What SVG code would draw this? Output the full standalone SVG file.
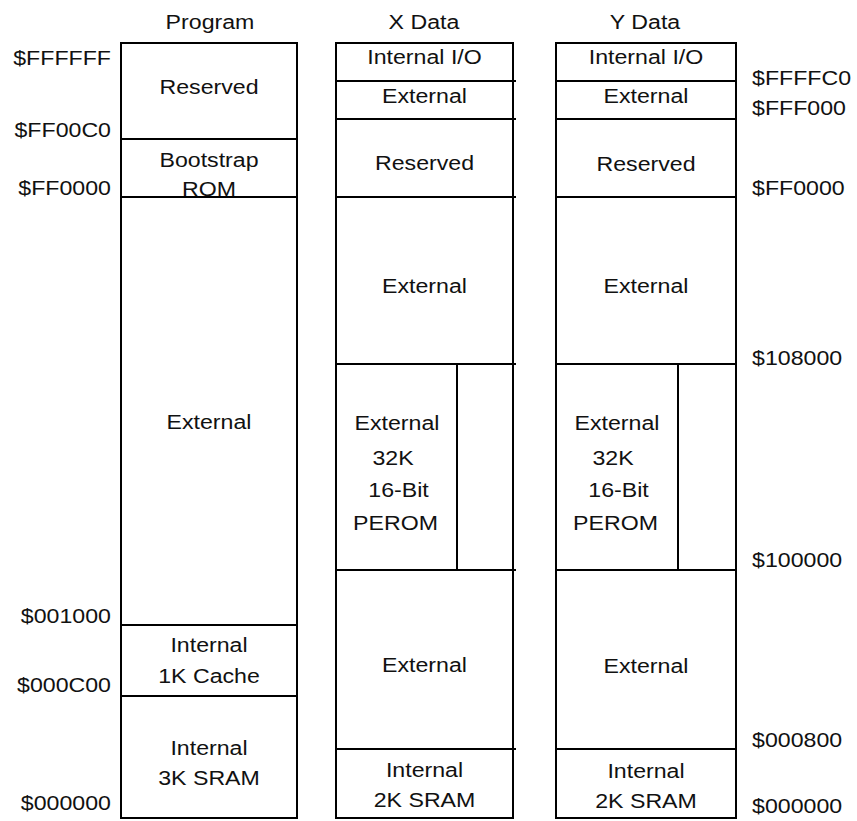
<svg xmlns="http://www.w3.org/2000/svg" width="857" height="821" viewBox="0 0 857 821">
<style>
rect.c{fill:#fff;stroke:#000;stroke-width:2}
line.l{stroke:#000;stroke-width:2}
text{font-family:"Liberation Sans",Arial,sans-serif;font-size:20.6px;fill:#111}
.m{text-anchor:middle}
.e{text-anchor:end}
.s{text-anchor:start}
</style>
<rect width="857" height="821" fill="#fff"/>
<g id="titles">
<text class="m" transform="translate(210 29) scale(1.125 1)">Program</text>
<text class="m" transform="translate(424 29) scale(1.125 1)">X Data</text>
<text class="m" transform="translate(645 29) scale(1.125 1)">Y Data</text>
</g>
<g id="program">
<g id="prog-reserved"><rect class="c" x="121" y="43" width="176" height="96"/><text class="m" transform="translate(209 94) scale(1.125 1)">Reserved</text></g>
<g id="prog-bootstrap"><rect class="c" x="121" y="139" width="176" height="58"/><text class="m" transform="translate(209 167) scale(1.125 1)">Bootstrap</text><text class="m" transform="translate(209 196) scale(1.125 1)">ROM</text></g>
<g id="prog-external"><rect class="c" x="121" y="197" width="176" height="428"/><text class="m" transform="translate(209 429) scale(1.125 1)">External</text></g>
<g id="prog-cache"><rect class="c" x="121" y="625" width="176" height="71"/><text class="m" transform="translate(209 652) scale(1.125 1)">Internal</text><text class="m" transform="translate(209 683) scale(1.125 1)">1K Cache</text></g>
<g id="prog-sram"><rect class="c" x="121" y="696" width="176" height="122"/><text class="m" transform="translate(209 755) scale(1.125 1)">Internal</text><text class="m" transform="translate(209 785) scale(1.125 1)">3K SRAM</text></g>
</g>
<g id="xdata">
<g id="x-io"><rect class="c" x="336" y="43" width="177" height="38"/><text class="m" transform="translate(424.5 64) scale(1.125 1)">Internal I/O</text></g>
<g id="x-ext1"><rect class="c" x="336" y="81" width="177" height="38"/><text class="m" transform="translate(424.5 103) scale(1.125 1)">External</text></g>
<g id="x-reserved"><rect class="c" x="336" y="119" width="177" height="78"/><text class="m" transform="translate(424.5 170) scale(1.125 1)">Reserved</text></g>
<g id="x-ext2"><rect class="c" x="336" y="197" width="177" height="167"/><text class="m" transform="translate(424.5 293) scale(1.125 1)">External</text></g>
<g id="x-perom"><rect class="c" x="336" y="364" width="177" height="206"/><line class="l" x1="457" y1="364" x2="457" y2="570"/>
<text class="m" transform="translate(397 430) scale(1.125 1)">External</text>
<text class="m" transform="translate(393 465) scale(1.125 1)">32K</text>
<text class="m" transform="translate(398.5 497) scale(1.125 1)">16-Bit</text>
<text class="m" transform="translate(395.5 530) scale(1.125 1)">PEROM</text></g>
<g id="x-ext3"><rect class="c" x="336" y="570" width="177" height="179"/><text class="m" transform="translate(424.5 672) scale(1.125 1)">External</text></g>
<g id="x-sram"><rect class="c" x="336" y="749" width="177" height="69"/><text class="m" transform="translate(424.5 777) scale(1.125 1)">Internal</text><text class="m" transform="translate(424.5 807) scale(1.125 1)">2K SRAM</text></g>
<g id="x-ticks">
<line class="l" x1="512" y1="81" x2="516" y2="81"/>
<line class="l" x1="512" y1="119" x2="516" y2="119"/>
<line class="l" x1="512" y1="197" x2="516" y2="197"/>
<line class="l" x1="512" y1="364" x2="516" y2="364"/>
<line class="l" x1="512" y1="570" x2="516" y2="570"/>
<line class="l" x1="512" y1="749" x2="516" y2="749"/>
</g>
</g>
<g id="ydata">
<g id="y-io"><rect class="c" x="556" y="43" width="180" height="38"/><text class="m" transform="translate(646 64) scale(1.125 1)">Internal I/O</text></g>
<g id="y-ext1"><rect class="c" x="556" y="81" width="180" height="38"/><text class="m" transform="translate(646 103) scale(1.125 1)">External</text></g>
<g id="y-reserved"><rect class="c" x="556" y="119" width="180" height="78"/><text class="m" transform="translate(646 171) scale(1.125 1)">Reserved</text></g>
<g id="y-ext2"><rect class="c" x="556" y="197" width="180" height="167"/><text class="m" transform="translate(646 293) scale(1.125 1)">External</text></g>
<g id="y-perom"><rect class="c" x="556" y="364" width="180" height="206"/><line class="l" x1="678" y1="364" x2="678" y2="570"/>
<text class="m" transform="translate(617 430) scale(1.125 1)">External</text>
<text class="m" transform="translate(613 465) scale(1.125 1)">32K</text>
<text class="m" transform="translate(618.5 497) scale(1.125 1)">16-Bit</text>
<text class="m" transform="translate(615.5 530) scale(1.125 1)">PEROM</text></g>
<g id="y-ext3"><rect class="c" x="556" y="570" width="180" height="179"/><text class="m" transform="translate(646 673) scale(1.125 1)">External</text></g>
<g id="y-sram"><rect class="c" x="556" y="749" width="180" height="69"/><text class="m" transform="translate(646 778) scale(1.125 1)">Internal</text><text class="m" transform="translate(646 808) scale(1.125 1)">2K SRAM</text></g>
</g>
<g id="addr-left">
<text class="e" transform="translate(111 65) scale(1.125 1)">$FFFFFF</text>
<text class="e" transform="translate(111 137) scale(1.125 1)">$FF00C0</text>
<text class="e" transform="translate(111 195) scale(1.125 1)">$FF0000</text>
<text class="e" transform="translate(111 623) scale(1.125 1)">$001000</text>
<text class="e" transform="translate(111 692) scale(1.125 1)">$000C00</text>
<text class="e" transform="translate(111 810) scale(1.125 1)">$000000</text>
</g>
<g id="addr-right">
<text class="s" transform="translate(752 85) scale(1.125 1)">$FFFFC0</text>
<text class="s" transform="translate(752 115) scale(1.125 1)">$FFF000</text>
<text class="s" transform="translate(752 195) scale(1.125 1)">$FF0000</text>
<text class="s" transform="translate(752 365) scale(1.125 1)">$108000</text>
<text class="s" transform="translate(752 567) scale(1.125 1)">$100000</text>
<text class="s" transform="translate(752 747) scale(1.125 1)">$000800</text>
<text class="s" transform="translate(752 813) scale(1.125 1)">$000000</text>
</g>
</svg>
